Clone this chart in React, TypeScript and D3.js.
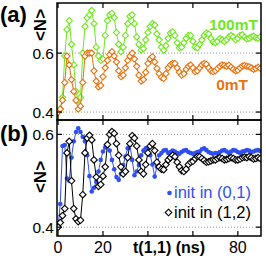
import * as d3 from 'd3';

// sampling step of the traces (ns)
const T_STEP = 1;

// panel (a): <N> vs t(1,1), two fields
const field100mT = [
  0.40, 0.41, 0.45, 0.59, 0.68, 0.71, 0.63, 0.56, 0.47, 0.44,
  0.45, 0.60, 0.69, 0.72, 0.73, 0.745, 0.70, 0.62, 0.59, 0.575,
  0.58, 0.66, 0.71, 0.73, 0.735, 0.72, 0.67, 0.63, 0.605, 0.62,
  0.66, 0.70, 0.725, 0.73, 0.70, 0.655, 0.63, 0.61, 0.615, 0.645,
  0.67, 0.69, 0.70, 0.695, 0.665, 0.645, 0.62, 0.61, 0.625, 0.65,
  0.668, 0.672, 0.66, 0.635, 0.618, 0.62, 0.635, 0.65, 0.66, 0.66,
  0.64, 0.62, 0.618, 0.63, 0.645, 0.66, 0.668, 0.665, 0.65, 0.638,
  0.635, 0.64, 0.65, 0.645, 0.64, 0.645, 0.655, 0.66, 0.655, 0.645,
  0.65, 0.66, 0.662, 0.655, 0.648, 0.65, 0.655, 0.658, 0.652, 0.65,
  0.655,
];
const field0mT = [
  0.40, 0.41, 0.44, 0.50, 0.59, 0.56, 0.51, 0.47, 0.44, 0.41,
  0.42, 0.50, 0.59, 0.60, 0.60, 0.60, 0.54, 0.505, 0.485, 0.49,
  0.52, 0.55, 0.575, 0.595, 0.605, 0.59, 0.57, 0.54, 0.52, 0.525,
  0.55, 0.575, 0.59, 0.60, 0.58, 0.555, 0.525, 0.505, 0.51, 0.535,
  0.565, 0.58, 0.588, 0.57, 0.548, 0.53, 0.518, 0.514, 0.53, 0.55,
  0.56, 0.565, 0.565, 0.55, 0.535, 0.525, 0.53, 0.545, 0.555, 0.56,
  0.55, 0.537, 0.54, 0.55, 0.56, 0.565, 0.562, 0.55, 0.54, 0.537,
  0.54, 0.548, 0.555, 0.56, 0.558, 0.555, 0.559, 0.552, 0.545, 0.54,
  0.542, 0.55, 0.556, 0.558, 0.555, 0.554, 0.55, 0.545, 0.548, 0.552,
  0.548,
];

// panel (b): two initial states
const init01 = [
  0.40, 0.45, 0.575, 0.577, 0.505, 0.50, 0.55, 0.585, 0.605, 0.613,
  0.605, 0.595, 0.585, 0.555, 0.51, 0.477, 0.485, 0.498, 0.52, 0.545,
  0.563, 0.572, 0.577, 0.565, 0.545, 0.525, 0.508, 0.502, 0.515, 0.534,
  0.552, 0.57, 0.577, 0.545, 0.512, 0.52, 0.534, 0.555, 0.565, 0.57,
  0.57, 0.555, 0.535, 0.509, 0.53, 0.555, 0.56, 0.565, 0.566, 0.56,
  0.562, 0.565, 0.563, 0.56, 0.558, 0.562, 0.565, 0.566, 0.562, 0.56,
  0.558, 0.56, 0.562, 0.563, 0.568, 0.57, 0.566, 0.562, 0.56, 0.558,
  0.56, 0.559, 0.562, 0.565, 0.566, 0.563, 0.56, 0.563, 0.566, 0.565,
  0.562, 0.56, 0.563, 0.564, 0.566, 0.565, 0.562, 0.563, 0.565, 0.566,
  0.564,
];
const init12 = [
  0.40, 0.41, 0.425, 0.44, 0.56, 0.585, 0.50, 0.44, 0.418, 0.412,
  0.415, 0.47, 0.56, 0.592, 0.598, 0.588, 0.545, 0.508, 0.488, 0.492,
  0.51, 0.53, 0.578, 0.60, 0.606, 0.602, 0.58, 0.555, 0.53, 0.515,
  0.52, 0.55, 0.58, 0.597, 0.592, 0.575, 0.545, 0.52, 0.515, 0.535,
  0.56, 0.575, 0.58, 0.565, 0.54, 0.53, 0.525, 0.524, 0.535, 0.545,
  0.55, 0.555, 0.552, 0.54, 0.53, 0.522, 0.52, 0.525, 0.535, 0.54,
  0.542, 0.548, 0.552, 0.552, 0.548, 0.544, 0.54, 0.541, 0.543, 0.545,
  0.545, 0.548, 0.55, 0.548, 0.545, 0.546, 0.548, 0.55, 0.548, 0.545,
  0.545, 0.547, 0.55, 0.551, 0.55, 0.552, 0.55, 0.547, 0.548, 0.55,
  0.548,
];

const xTicks = [0, 20, 40, 60, 80];
const xTickLabels = ['0', '20', '', '', '80'];
const yTicks = [0.4, 0.6];

const FONT = 'Liberation Sans, Arial, Helvetica, sans-serif';
const GREEN = '#6ee81e';
const ORANGE = '#e8720f';
const BLUE = '#2f4ff0';

const X0 = 57;
const X1 = 261;
const x = d3.scaleLinear().domain([-0.45, 90.3]).range([X0, X1]);

const diamond = (r: number) => `M0,${-r}L${r},0L0,${r}L${-r},0Z`;

type Series = { values: number[]; color: string; marker: 'diamond' | 'dot'; r: number };

function Trace({ s, y }: { s: Series; y: d3.ScaleLinear<number, number> }) {
  const pts = s.values.map((v, i) => [x(i * T_STEP), y(v)] as [number, number]);
  const line = d3.line();
  return (
    <g>
      <path d={line(pts) ?? ''} fill="none" stroke={s.color} strokeWidth={1} />
      {pts.map(([px, py], i) =>
        s.marker === 'dot' ? (
          <circle key={i} cx={px} cy={py} r={s.r} fill={s.color} />
        ) : (
          <path key={i} transform={`translate(${px},${py})`} d={diamond(s.r)}
            fill="white" stroke={s.color} strokeWidth={1.1} />
        )
      )}
    </g>
  );
}

function Panel({ top, bottom, domain, series }: {
  top: number; bottom: number; domain: [number, number]; series: Series[];
}) {
  const y = d3.scaleLinear().domain(domain).range([bottom, top]);
  const clipId = `clip-${top}`;
  return (
    <g>
      <defs>
        <clipPath id={clipId}>
          <rect x={X0} y={top} width={X1 - X0} height={bottom - top} />
        </clipPath>
      </defs>
      {yTicks.map((t) => (
        <line key={t} x1={X0} x2={X1} y1={y(t)} y2={y(t)}
          stroke="#999" strokeWidth={1} strokeDasharray="1,2" />
      ))}
      <g clipPath={`url(#${clipId})`}>
        {series.map((s, i) => <Trace key={i} s={s} y={y} />)}
      </g>
      {xTicks.map((t) => (
        <g key={t}>
          <line x1={x(t)} x2={x(t)} y1={top} y2={top + 5} stroke="black" strokeWidth={1.2} />
          <line x1={x(t)} x2={x(t)} y1={bottom} y2={bottom - 5} stroke="black" strokeWidth={1.2} />
        </g>
      ))}
      {yTicks.map((t) => (
        <g key={t}>
          <line x1={X0} x2={X0 + 5} y1={y(t)} y2={y(t)} stroke="black" strokeWidth={1.2} />
          <line x1={X1} x2={X1 - 5} y1={y(t)} y2={y(t)} stroke="black" strokeWidth={1.2} />
          <text x={X0 - 3} y={y(t)} dy="0.36em" textAnchor="end" fontSize={15.5}
            fontFamily={FONT}>{t.toFixed(1)}</text>
        </g>
      ))}
      <rect x={X0} y={top} width={X1 - X0} height={bottom - top}
        fill="none" stroke="black" strokeWidth={1.5} />
    </g>
  );
}

export default function App() {
  const topA = 3, botA = 120, botB = 236;
  return (
    <svg width={266} height={258} style={{ position: 'absolute', left: 0, top: 0 }}>
      <rect width={266} height={258} fill="white" />
      <Panel top={topA} bottom={botA} domain={[0.373, 0.77]} series={[
        { values: field100mT, color: GREEN, marker: 'diamond', r: 3.1 },
        { values: field0mT, color: ORANGE, marker: 'diamond', r: 3.1 },
      ]} />
      <Panel top={botA} bottom={botB} domain={[0.381, 0.631]} series={[
        { values: init01, color: BLUE, marker: 'dot', r: 2.3 },
        { values: init12, color: 'black', marker: 'diamond', r: 3.3 },
      ]} />

      {/* panel labels */}
      <text x={0} y={22} fontSize={22} fontWeight="bold" fontFamily={FONT}>(a)</text>
      <text x={0} y={141} fontSize={22} fontWeight="bold" fontFamily={FONT}>(b)</text>
      <text transform="translate(46,25) rotate(-90)" textAnchor="middle" fontSize={17}
        fontWeight="bold" fontFamily={FONT}>{'<N>'}</text>
      <text transform="translate(46,177) rotate(-90)" textAnchor="middle" fontSize={17}
        fontWeight="bold" fontFamily={FONT}>{'<N>'}</text>

      {/* x axis */}
      {xTicks.map((t, i) => (
        <text key={t} x={x(t)} y={253} textAnchor="middle" fontSize={16}
          fontFamily={FONT}>{xTickLabels[i]}</text>
      ))}
      <text x={169} y={253} textAnchor="middle" fontSize={16} fontWeight="bold"
        fontFamily={FONT}>t(1,1) (ns)</text>

      {/* legends */}
      <text x={258} y={30} textAnchor="end" fontSize={15.5} fontWeight="bold" fill={GREEN}
        fontFamily={FONT}>100mT</text>
      <text x={248} y={90} textAnchor="end" fontSize={15.5} fontWeight="bold" fill={ORANGE}
        fontFamily={FONT}>0mT</text>
      <circle cx={169.5} cy={193} r={2.3} fill={BLUE} />
      <text x={174} y={198} fontSize={16.5} fill={BLUE} fontFamily={FONT}>init in (0,1)</text>
      <path transform="translate(168.5,212.5)" d={diamond(3.3)} fill="white" stroke="black" strokeWidth={1.1} />
      <text x={174} y={218} fontSize={16.5} fill="black" fontFamily={FONT}>init in (1,2)</text>
    </svg>
  );
}
